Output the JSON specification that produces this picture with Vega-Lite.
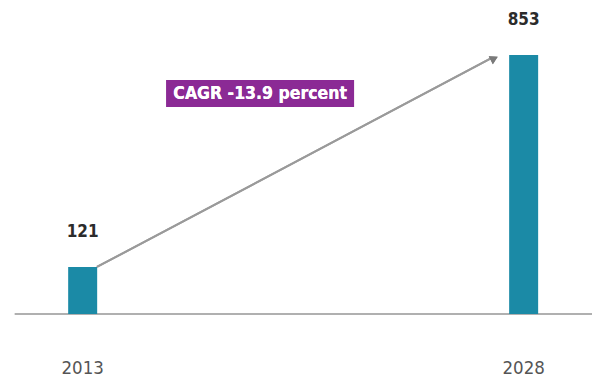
{
  "$schema": "https://vega.github.io/schema/vega-lite/v6.json",
  "autosize": "none",
  "width": 597,
  "height": 381,
  "padding": 0,
  "background": "white",
  "config": {"view": {"stroke": null}},
  "data": {"values": [{"year": 2013, "value": 121}, {"year": 2028, "value": 853}]},
  "layer": [
    {
      "mark": {"type": "rule", "color": "#ababab", "strokeWidth": 1.6},
      "encoding": {
        "x": {"datum": 2010.69, "type": "quantitative", "scale": {"domain": [2010.358, 2030.325], "nice": false, "zero": false}, "axis": null},
        "x2": {"datum": 2030.325},
        "y": {"datum": -41.3, "type": "quantitative", "scale": {"domain": [-272.7, 1042.9], "nice": false, "zero": false}, "axis": null}
      }
    },
    {
      "mark": {"type": "bar", "width": 29, "color": "#1b8aa6"},
      "encoding": {
        "x": {"field": "year", "type": "quantitative", "axis": null},
        "y": {"field": "value", "type": "quantitative", "axis": null},
        "y2": {"datum": -41.3}
      }
    },
    {
      "mark": {"type": "text", "dy": -35, "baseline": "middle", "align": "center", "font": "DejaVu Sans Condensed, sans-serif", "fontWeight": "bold", "fontSize": 17, "color": "#2b2b2b"},
      "encoding": {
        "x": {"field": "year", "type": "quantitative"},
        "y": {"field": "value", "type": "quantitative"},
        "text": {"field": "value", "type": "quantitative"}
      }
    },
    {
      "mark": {"type": "text", "baseline": "middle", "align": "center", "font": "DejaVu Sans Condensed, sans-serif", "fontSize": 18.5, "color": "#555555"},
      "encoding": {
        "x": {"field": "year", "type": "quantitative"},
        "y": {"datum": -227.8},
        "text": {"field": "year", "type": "nominal"}
      }
    },
    {
      "mark": {"type": "rule", "color": "#9a9a9a", "strokeWidth": 2},
      "encoding": {
        "x": {"datum": 2013.485},
        "y": {"datum": 121},
        "x2": {"datum": 2026.9},
        "y2": {"datum": 842}
      }
    },
    {
      "mark": {"type": "point", "shape": "triangle-right", "filled": true, "size": 80, "angle": -27, "color": "#7a7a7a", "opacity": 1},
      "encoding": {
        "x": {"datum": 2027.0},
        "y": {"datum": 841}
      }
    },
    {
      "mark": {"type": "rect", "color": "#8b2a95"},
      "encoding": {
        "x": {"datum": 2015.843},
        "x2": {"datum": 2022.231},
        "y": {"datum": 766.7},
        "y2": {"datum": 673.4}
      }
    },
    {
      "mark": {"type": "text", "text": "CAGR -13.9 percent", "baseline": "middle", "align": "center", "font": "DejaVu Sans Condensed, sans-serif", "fontWeight": "bold", "fontSize": 17.5, "color": "white"},
      "encoding": {
        "x": {"datum": 2019.037},
        "y": {"datum": 720}
      }
    }
  ]
}
